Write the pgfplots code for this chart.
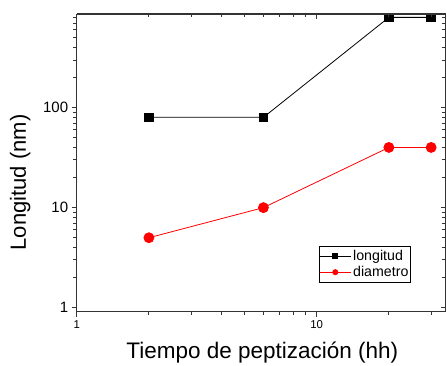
\documentclass[border=0pt]{standalone}
\usepackage{pgfplots}
\pgfplotsset{compat=1.18}
\usepackage{fontspec}
\setmainfont{Liberation Sans}
\begin{document}
\begin{tikzpicture}
\useasboundingbox (-76.7pt,-54.3pt) rectangle (370.3pt,311.7pt);
\begin{axis}[
  xmode=log, ymode=log,
  scale only axis,
  width=369pt, height=297.7pt,
  xmin=1, xmax=34.5, ymin=0.91, ymax=865,
  xtick={1,10}, minor xtick={2,3,4,5,6,7,8,9,20,30},
  ytick={1,10,100}, minor ytick={2,3,4,5,6,7,8,9,20,30,40,50,60,70,80,90,200,300,400,500,600,700,800},
  log ticks with fixed point,
  /pgf/number format/assume math mode=true,
  axis line style={line width=1.2pt, draw=black!80},
  major tick length=5pt, minor tick length=3.5pt,
  tick style={line width=0.9pt, draw=black!80},
  axis x line*=bottom, axis y line*=left,
  tick align=outside,
  xlabel={Tiempo de peptización (hh)},
  ylabel={Longitud (nm)},
  xlabel style={font=\fontsize{22.5}{24}\selectfont, at={([yshift=-47.3pt]axis description cs:0.503,0)}, anchor=base},
  ylabel style={font=\fontsize{22}{24}\selectfont, at={([xshift=-50.7pt]axis description cs:0,0.434)}, anchor=base},
  xticklabel style={font=\fontsize{11.4}{12}\selectfont},
  yticklabel style={font=\fontsize{15}{16}\selectfont},
  legend style={at={(0.6566,0.0974)}, anchor=south west, draw=black, line width=0.8pt,
    font=\fontsize{14.2}{15}\selectfont, inner xsep=0pt, inner ysep=2pt,
    nodes={inner xsep=2pt, inner ysep=2.2pt}},
  legend cell align=left,
  legend image code/.code={\draw[mark repeat=2, mark phase=2, mark size=2.6pt]
     plot coordinates {(0pt,0pt) (15.5pt,0pt) (31pt,0pt)};},
]
\addplot[black, line width=0.8pt, mark=square*, mark size=4.3pt, mark options={solid}]
  coordinates {(2,80) (6,80) (20,800) (30,800)};
\addlegendentry{longitud}
\addplot[red, line width=0.8pt, mark=*, mark size=5pt, mark options={solid}]
  coordinates {(2,5) (6,10) (20,40) (30,40)};
\addlegendentry{diametro}
\end{axis}
\begin{axis}[
  xmode=log, ymode=log,
  scale only axis,
  width=369pt, height=297.7pt,
  xmin=1, xmax=34.5, ymin=0.91, ymax=865,
  xtick={1,10}, minor xtick={2,3,4,5,6,7,8,9,20,30},
  ytick={1,10,100}, minor ytick={2,3,4,5,6,7,8,9,20,30,40,50,60,70,80,90,200,300,400,500,600,700,800},
  axis line style={line width=1.2pt, draw=black!80},
  major tick length=5pt, minor tick length=3.5pt,
  tick style={line width=0.9pt, draw=black!80},
  axis x line*=top, axis y line*=right,
  tick align=inside,
  xticklabels={}, yticklabels={},
]
\end{axis}
\end{tikzpicture}
\end{document}
